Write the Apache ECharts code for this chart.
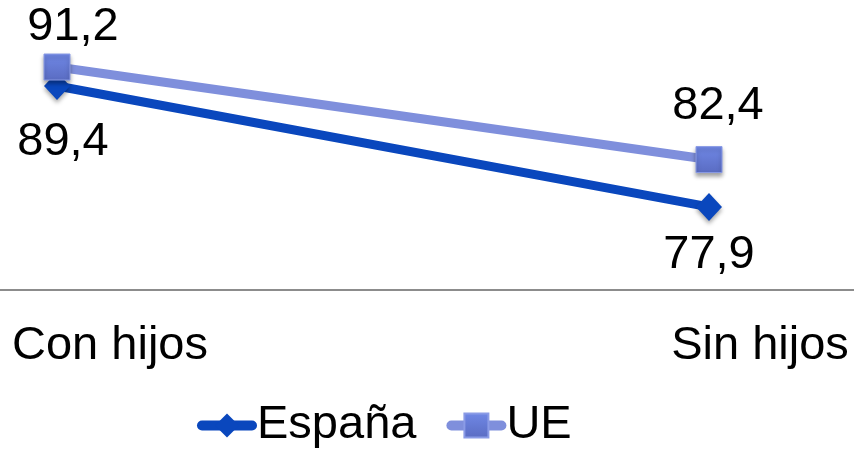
<!DOCTYPE html>
<html>
<head>
<meta charset="utf-8">
<script src="https://cdn.jsdelivr.net/npm/echarts@6/dist/echarts.min.js"></script>
<style>
  html, body { margin: 0; padding: 0; background: #fff; }
  #chart { width: 854px; height: 450px; }
</style>
</head>
<body>
<div id="chart"></div>
<script>
// Categories and values
const categories = ['Con hijos', 'Sin hijos'];
const seriesNames = ['España', 'UE'];
const espana = [89.4, 77.9];
const ue = [91.2, 82.4];

// Label offsets (pixels, relative to each marker centre)
const espanaLabelOffsets = [[6, 56], [0, 48]];
const ueLabelOffsets = [[16, -40], [9, -54]];

const FONT = '"Liberation Sans", Arial, sans-serif';
const FS = 47;

const fmt = v => String(v).replace('.', ',');

function withLabels(values, offsets) {
  return values.map((v, i) => ({
    value: v,
    label: { offset: offsets[i] }
  }));
}

const chart = echarts.init(document.getElementById('chart'), null, { renderer: 'canvas' });

const plotTop = 27.05, plotBottom = 160;

chart.setOption({
  animation: false,
  backgroundColor: '#ffffff',
  textStyle: { fontFamily: FONT },
  grid: [
    // data area
    { left: 57, right: 145, top: plotTop, bottom: plotBottom },
    // full-width baseline
    { left: 0, right: 0, top: plotTop, bottom: plotBottom },
    // category labels
    { left: 110, right: 94, top: plotTop, bottom: plotBottom }
  ],
  xAxis: [
    { gridIndex: 0, type: 'category', data: categories, boundaryGap: false,
      axisLine: { show: false }, axisTick: { show: false }, axisLabel: { show: false },
      splitLine: { show: false } },
    { gridIndex: 1, type: 'category', data: categories, boundaryGap: false,
      axisLine: { show: true, lineStyle: { color: '#8c8c8c', width: 2 } },
      axisTick: { show: false }, axisLabel: { show: false }, splitLine: { show: false } },
    { gridIndex: 2, type: 'category', data: categories, boundaryGap: false,
      axisLine: { show: false }, axisTick: { show: false }, splitLine: { show: false },
      axisLabel: { show: true, color: '#000', fontSize: FS, fontFamily: FONT,
        lineHeight: FS, margin: 33, interval: 0 } }
  ],
  yAxis: [
    { gridIndex: 0, type: 'value', min: 70, max: 95, show: false },
    { gridIndex: 1, type: 'value', min: 70, max: 95, show: false },
    { gridIndex: 2, type: 'value', min: 70, max: 95, show: false }
  ],
  legend: {
    data: seriesNames,
    left: 192,
    top: 397,
    itemWidth: 50,
    itemHeight: 30,
    itemGap: 30,
    lineStyle: { width: 10, cap: 'round' },
    textStyle: { color: '#000', fontSize: FS, fontFamily: FONT, lineHeight: FS }
  },
  series: [
    {
      name: 'España',
      type: 'line',
      xAxisIndex: 0, yAxisIndex: 0,
      data: withLabels(espana, espanaLabelOffsets),
      symbol: 'diamond',
      symbolSize: [26, 28],
      lineStyle: { color: '#0a47bd', width: 9, cap: 'round' },
      itemStyle: {
        color: '#0a47bd',
        shadowColor: 'rgba(0,0,0,0.35)', shadowBlur: 4, shadowOffsetY: 3
      },
      label: {
        show: true, position: 'inside', color: '#000',
        fontSize: FS, fontFamily: FONT,
        formatter: p => fmt(p.value)
      },
      z: 2
    },
    {
      name: 'UE',
      type: 'line',
      xAxisIndex: 0, yAxisIndex: 0,
      data: withLabels(ue, ueLabelOffsets),
      symbol: 'rect',
      symbolSize: 26,
      lineStyle: { color: '#7f8fdc', width: 9, cap: 'round' },
      itemStyle: {
        color: new echarts.graphic.LinearGradient(0, 0, 0, 1, [
          { offset: 0, color: '#7088e6' },
          { offset: 1, color: '#5a6cc2' }
        ]),
        borderColor: '#8a9be6', borderWidth: 1,
        shadowColor: 'rgba(0,0,0,0.35)', shadowBlur: 4, shadowOffsetY: 3
      },
      label: {
        show: true, position: 'inside', color: '#000',
        fontSize: FS, fontFamily: FONT,
        formatter: p => fmt(p.value)
      },
      z: 3
    }
  ]
});
</script>
</body>
</html>
